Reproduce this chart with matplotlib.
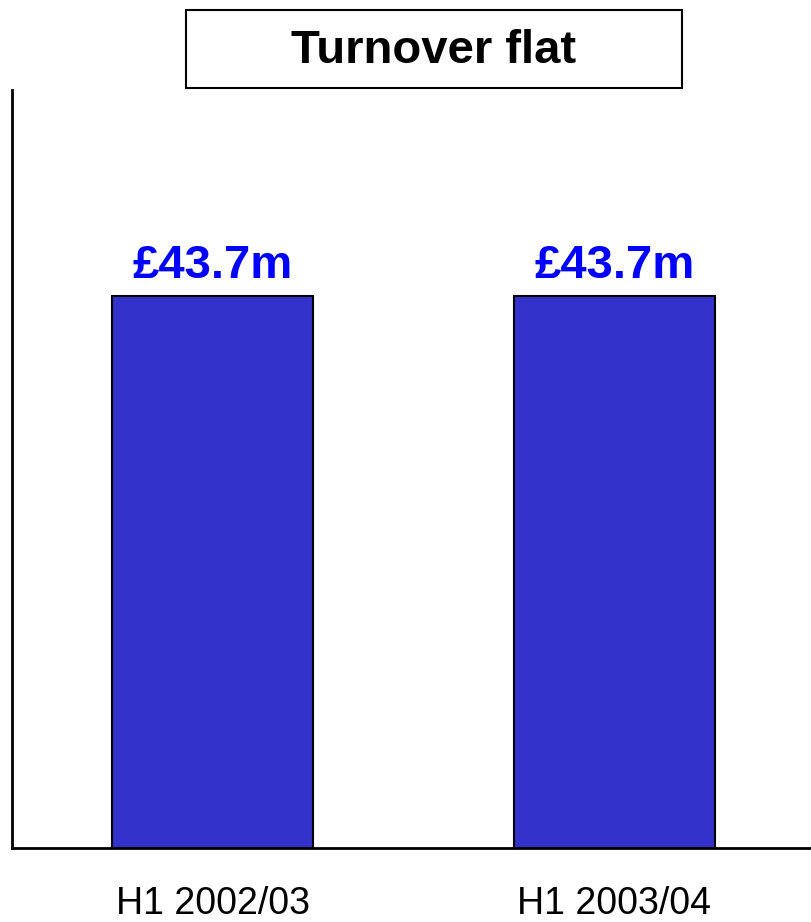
import matplotlib
matplotlib.use('Agg')
import matplotlib.pyplot as plt
from matplotlib.patches import Rectangle

categories = ["H1 2002/03", "H1 2003/04"]
turnover = [43.7, 43.7]
value_labels = ["£43.7m", "£43.7m"]
title = "Turnover flat"

W, H = 811, 922
fig = plt.figure(figsize=(W / 100, H / 100), dpi=100)
ax = fig.add_axes([12 / W, 1 - 848 / H, 1 - 12 / W, (848 - 90) / H])

x = list(range(len(categories)))
ax.bar(x, turnover, width=0.5, color="#3333CC", edgecolor="black", linewidth=1.5)
for xi, v, lab in zip(x, turnover, value_labels):
    ax.text(xi, v + 1.4, lab, ha="center", va="baseline", color="#0000FF",
            fontsize=34, fontweight="bold", family=["Liberation Sans", "DejaVu Sans"])

ax.set_ylim(0, 60)
ax.set_xlim(-0.5, 1.49)
ax.set_xticks(x)
ax.set_xticklabels(categories, fontsize=27, family=["Liberation Sans", "DejaVu Sans"])
ax.tick_params(axis="x", length=0, pad=27)
ax.set_yticks([])
for s in ["top", "right"]:
    ax.spines[s].set_visible(False)
for s in ["left", "bottom"]:
    ax.spines[s].set_linewidth(2)
    ax.spines[s].set_color("black")

# title box
fig.patches.append(Rectangle((186 / W, 1 - 88 / H), (682 - 186) / W, 78 / H,
                             transform=fig.transFigure, facecolor="white",
                             edgecolor="black", linewidth=1.5))
fig.text(434 / W, 1 - 51 / H, title, ha="center", va="center", fontsize=34,
         fontweight="bold", family=["Liberation Sans", "DejaVu Sans"])

fig.savefig("out.png", dpi=100)
